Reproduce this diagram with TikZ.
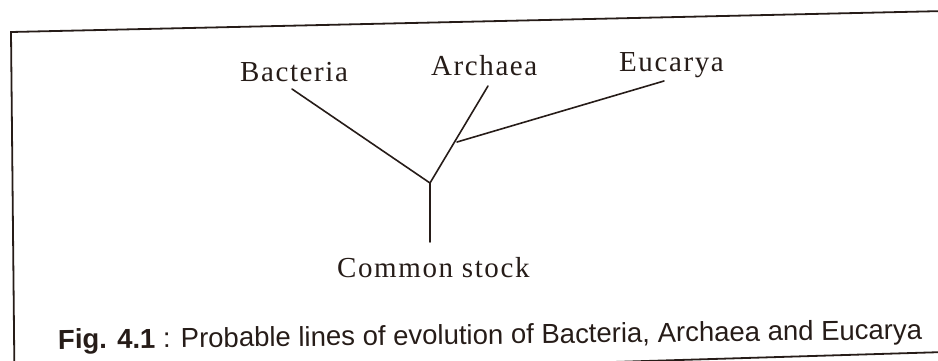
\documentclass[tikz,border=0pt]{standalone}
\usepackage{fontspec}
\setmainfont{Liberation Serif}
\newfontfamily\labfont[LetterSpace=5.5]{Liberation Serif}
\newfontfamily\capfont{Liberation Sans}
\definecolor{ink}{RGB}{38,28,24}
\begin{document}
\begin{tikzpicture}[x=1pt,y=-1pt,
  lab/.style={anchor=base west,inner sep=0pt,text=ink,font=\labfont\fontsize{29}{31}\selectfont},
  branch/.style={draw=ink,line width=1.6pt,line cap=round},
  frame/.style={draw=ink,line width=1.8pt,line join=miter}]
\useasboundingbox (0,0) rectangle (938,360);
\clip (0,0) rectangle (938,360);
% frame (slightly skewed as in the scan)
\draw[frame] (945,11) -- (11,32) -- (14.5,380) -- (945,352);
% labels
\node[lab] (bac) at (240,81) {Bacteria};
\node[lab] (arc) at (431,75) {Archaea};
\node[lab] (euc) at (619,71) {Eucarya};
\node[lab] (cs) at (337,277) {Common stock};
% tree
\coordinate (bacend) at (292,89);
\coordinate (arcend) at (488,86);
\coordinate (eucend) at (664,81);
\coordinate (split) at (457,142);
\coordinate (root) at (430,183);
\coordinate (base) at (430,242);
\draw[branch] (bacend) -- (root);
\draw[branch] (arcend) -- (root);
\draw[branch] (eucend) -- (split);
\draw[branch] (root) -- (base);
% caption
\node[anchor=base west,inner sep=0pt,text=ink,rotate=0.66,font=\capfont\fontsize{27.5}{30}\selectfont] (cap) at (58,349)
  {\textbf{Fig. 4.1} : Probable lines of evolution of Bacteria, Archaea and Eucarya};
\end{tikzpicture}
\end{document}
